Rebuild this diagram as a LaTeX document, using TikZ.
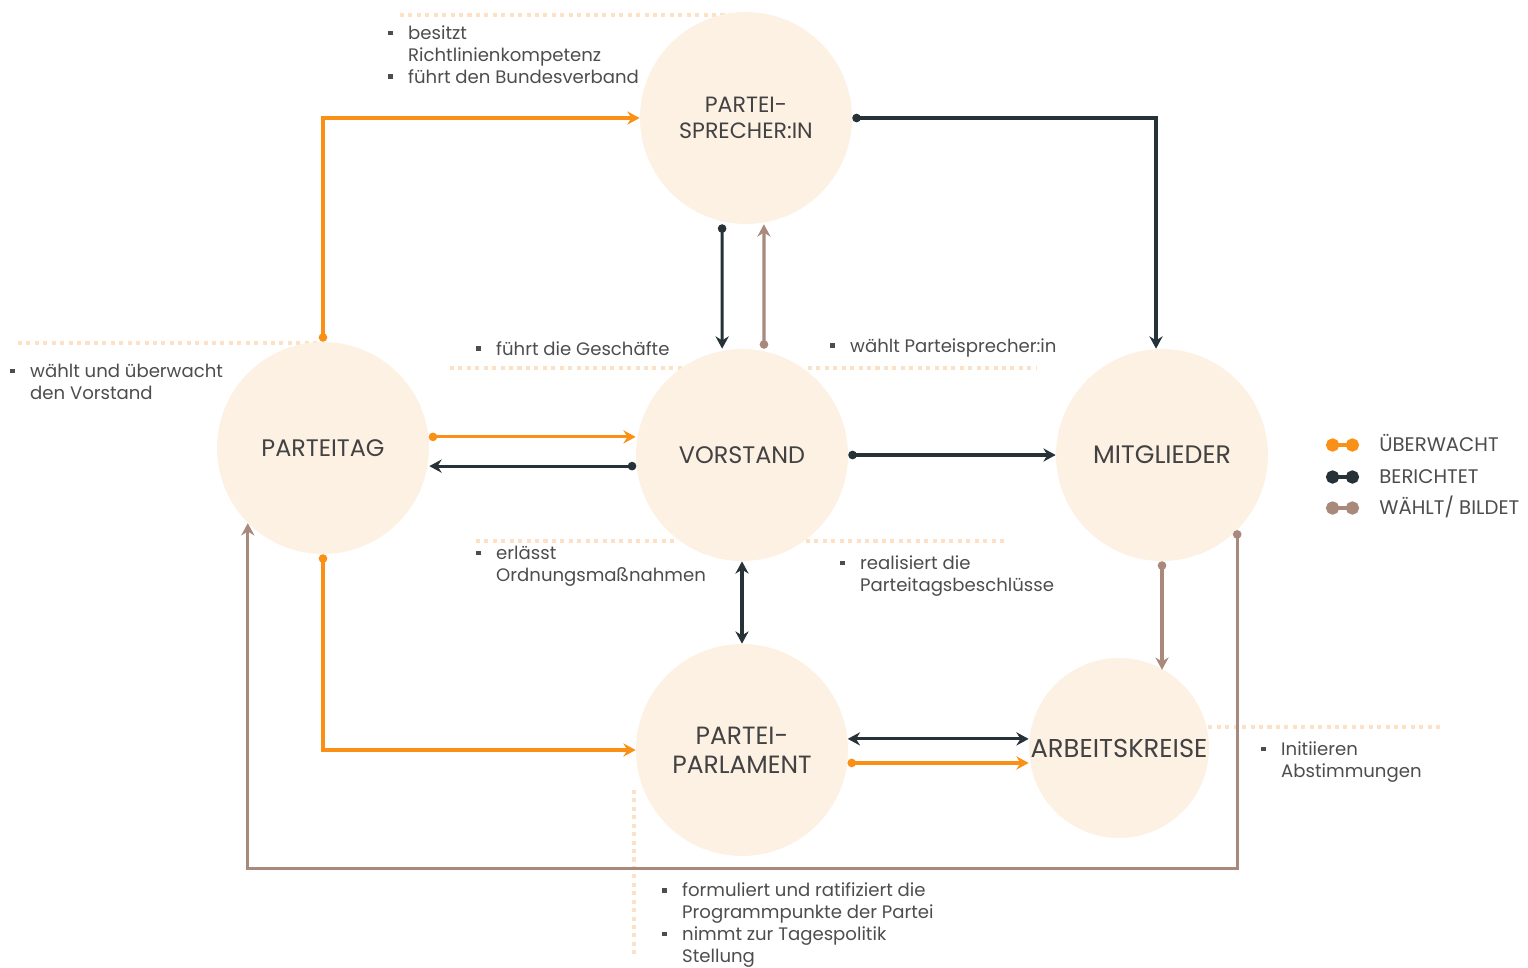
\documentclass[tikz,border=0pt]{standalone}
\usepackage{fontspec}
\setmainfont{Poppins}
\usetikzlibrary{arrows.meta}

\definecolor{orangeton}{HTML}{FA9116}
\definecolor{dunkel}{HTML}{263238}
\definecolor{braun}{HTML}{A8897B}
\definecolor{kreisfarbe}{HTML}{FDF1E4}
\definecolor{punktfarbe}{HTML}{FCE1C6}
\definecolor{schrift}{HTML}{4D4D4D}

\newcommand{\itm}{\makebox[11.3pt][l]{\rule[0.2em]{2.8pt}{2.8pt}}}
\newcommand{\ein}{\hspace*{11.3pt}}

\tikzset{
  kreis/.style={circle, fill=kreisfarbe, minimum size=4.24cm, inner sep=0pt, align=center, text=schrift!85!black, font=\fontsize{13.6}{15.5}\selectfont},
  notiz/.style={anchor=base west, inner sep=0pt, align=left, text=schrift, font=\fontsize{10.3}{12.5}\selectfont},
  legende/.style={anchor=base west, inner sep=0pt, text=schrift, font=\fontsize{11.2}{13}\selectfont},
  linie/.style={line width=1.8pt},
  ueberwacht/.style={linie, draw=orangeton, {Circle[length=4.8pt]}-{Stealth[length=7pt,width=7.5pt,inset=2.3pt]}},
  berichtet/.style={linie, draw=dunkel, {Circle[length=4.8pt]}-{Stealth[length=7pt,width=7.5pt,inset=2.3pt]}},
  waehlt/.style={linie, draw=braun, {Circle[length=4.8pt]}-{Stealth[length=7pt,width=7.5pt,inset=2.3pt]}},
  beidseitig/.style={linie, draw=dunkel, {Stealth[length=7pt,width=7.5pt,inset=2.3pt]}-{Stealth[length=7pt,width=7.5pt,inset=2.3pt]}},
  punktlinie/.style={draw=punktfarbe, line width=2.3pt, dash pattern=on 2.3pt off 2.5pt},
  legendlinie/.style={line width=2.3pt, {Circle[length=7.5pt]}-{Circle[length=7.5pt]}}
}

\begin{document}
\begin{tikzpicture}[x=0.02cm, y=-0.02cm]
  \useasboundingbox (0,0) rectangle (1528,967);

  \draw[punktlinie] (400,15) -- (740,15);
  \draw[punktlinie] (18,343) -- (323,343);
  \draw[punktlinie] (450,368) -- (690,368);
  \draw[punktlinie] (808,368) -- (1036,368);
  \draw[punktlinie] (476,541) -- (678,541);
  \draw[punktlinie] (806,541) -- (1005,541);
  \draw[punktlinie] (1200,727) -- (1440,727);
  \draw[punktlinie] (634,790) -- (634,955);

  \node (sprecher) [kreis, font=\fontsize{12.6}{14.5}\selectfont] at (746,118) {PARTEI-\\SPRECHER:IN};
  \node (parteitag) [kreis] at (323,448) {PARTEITAG};
  \node (vorstand) [kreis] at (742,455) {VORSTAND};
  \node (mitglieder) [kreis, font=\fontsize{14.4}{16}\selectfont] at (1162,455) {MITGLIEDER};
  \node (parlament) [kreis, font=\fontsize{14.2}{16.5}\selectfont] at (742,750) {PARTEI-\\PARLAMENT};
  \node (arbeitskreise) [kreis, minimum size=3.6cm, font=\fontsize{14.7}{17}\selectfont] at (1119,748) {ARBEITSKREISE};

  \draw[ueberwacht] (parteitag.north) |- (sprecher.west);
  \draw[berichtet] (sprecher.east) -| ([xshift=-3.4pt]mitglieder.north);
  \draw[berichtet] ([xshift=-13.6pt]sprecher.south) -- ([xshift=-11.3pt]vorstand.north);
  \draw[waehlt] ([xshift=12.5pt]vorstand.north) -- ([xshift=10.2pt]sprecher.south);
  \draw[ueberwacht] (parteitag.6) -- (vorstand.west |- parteitag.6);
  \draw[berichtet] (vorstand.186) -- (parteitag.east |- vorstand.186);
  \draw[berichtet] (vorstand.east) -- (mitglieder.west);
  \draw[beidseitig] (vorstand.south) -- (parlament.north);
  \draw[ueberwacht] (parteitag.south) |- (parlament.west);
  \draw[beidseitig] (parlament.6) -- (arbeitskreise.west |- parlament.6);
  \draw[ueberwacht] (parlament.353) -- (arbeitskreise.west |- parlament.353);
  \draw[waehlt] (mitglieder.south) -- (mitglieder.south |- arbeitskreise.60);
  \draw[waehlt] (mitglieder.315) -- ++(0,338) -| (parteitag.225);

  \node (sprechertext) [notiz] at (388,83) {\itm besitzt\\\ein Richtlinienkompetenz\\\itm führt den Bundesverband};
  \node (parteitagtext) [notiz] at (10,399) {\itm wählt und überwacht\\\ein den Vorstand};
  \node (geschaeftetext) [notiz] at (476,355) {\itm führt die Geschäfte};
  \node (wahltext) [notiz] at (830,352) {\itm wählt Parteisprecher:in};
  \node (ordnungtext) [notiz] at (476,581) {\itm erlässt\\\ein Ordnungsmaßnahmen};
  \node (beschlusstext) [notiz] at (840,591) {\itm realisiert die\\\ein Parteitagsbeschlüsse};
  \node (kreisetext) [notiz] at (1261,777) {\itm Initiieren\\\ein Abstimmungen};
  \node (parlamenttext) [notiz] at (662,962) {\itm formuliert und ratifiziert die\\\ein Programmpunkte der Partei\\\itm nimmt zur Tagespolitik\\\ein Stellung};

  \node (lg1) [legende] at (1379,451) {ÜBERWACHT};
  \node (lg2) [legende] at (1379,483) {BERICHTET};
  \node (lg3) [legende] at (1379,514) {WÄHLT/ BILDET};
  \draw[legendlinie, orangeton] (1326,445) -- (1359,445);
  \draw[legendlinie, dunkel] (1326,477) -- (1359,477);
  \draw[legendlinie, braun] (1326,508) -- (1359,508);
\end{tikzpicture}
\end{document}
